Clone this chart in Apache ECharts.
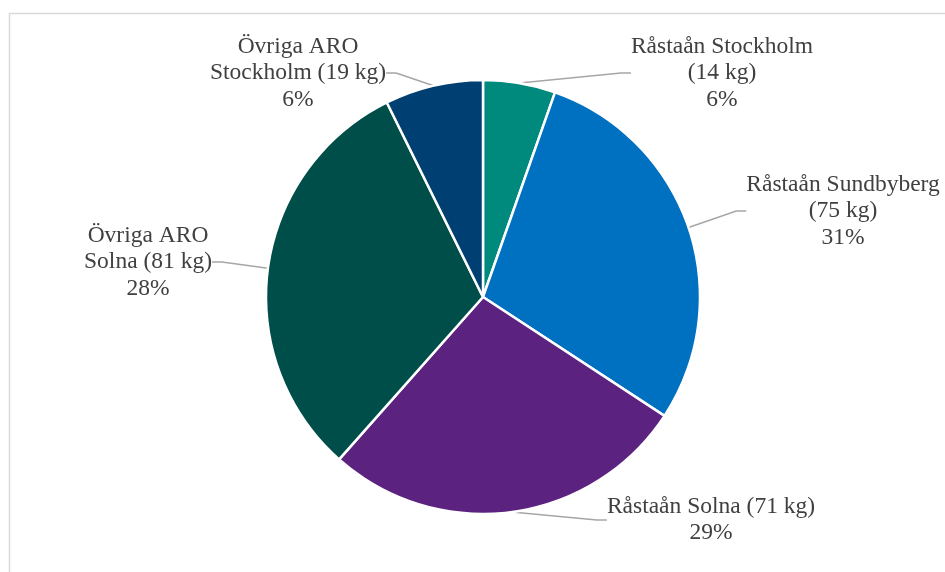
<!DOCTYPE html>
<html>
<head>
<meta charset="utf-8">
<script src="https://cdn.jsdelivr.net/npm/echarts@6/dist/echarts.min.js"></script>
<style>html,body{margin:0;padding:0;background:#fff;}#c{width:945px;height:572px;}</style>
</head>
<body>
<div id="c"></div>
<script>
const categories = ['Råstaån Stockholm', 'Råstaån Sundbyberg', 'Råstaån Solna', 'Övriga ARO Solna', 'Övriga ARO Stockholm'];
const valuesKg = [14, 75, 71, 81, 19];
const percentLabels = ['6%', '31%', '29%', '28%', '6%'];
const labelTexts = [
  'Råstaån Stockholm\n(14 kg)\n6%',
  'Råstaån Sundbyberg\n(75 kg)\n31%',
  'Råstaån Solna (71 kg)\n29%',
  'Övriga ARO\nSolna (81 kg)\n28%',
  'Övriga ARO\nStockholm (19 kg)\n6%'
];
const colors = ['#00897D', '#0070C0', '#5C2280', '#004E49', '#003F72'];
// label anchor positions (layout only)
const labelPos = [[722, 73], [843, 211], [711, 520], [148, 262], [298, 73]];

const chart = echarts.init(document.getElementById('c'), null, {renderer: 'canvas'});
chart.setOption({
  animation: false,
  backgroundColor: '#fff',
  graphic: [{
    type: 'rect',
    shape: {x: 9.5, y: 13.5, width: 1000, height: 600},
    style: {fill: 'none', stroke: '#D9D9D9', lineWidth: 1.5},
    silent: true, z: -1
  }],
  series: [{
    type: 'pie',
    center: [483, 297],
    radius: [0, 217],
    startAngle: 90,
    clockwise: true,
    itemStyle: {borderColor: '#fff', borderWidth: 2.5},
    label: {
      show: true,
      position: 'outside',
      formatter: p => labelTexts[p.dataIndex],
      fontFamily: '"Liberation Serif", "Times New Roman", serif',
      fontSize: 23.5,
      lineHeight: 26.5,
      color: '#404040',
      align: 'center'
    },
    labelLine: {show: true, lineStyle: {color: '#A6A6A6', width: 1.5}, length: 20, length2: 10},
    labelLayout: p => ({
      x: labelPos[p.dataIndex][0],
      y: labelPos[p.dataIndex][1],
      align: 'center',
      verticalAlign: 'middle'
    }),
    data: categories.map((c, i) => ({name: c, value: valuesKg[i], itemStyle: {color: colors[i]}}))
  }]
});
</script>
</body>
</html>
